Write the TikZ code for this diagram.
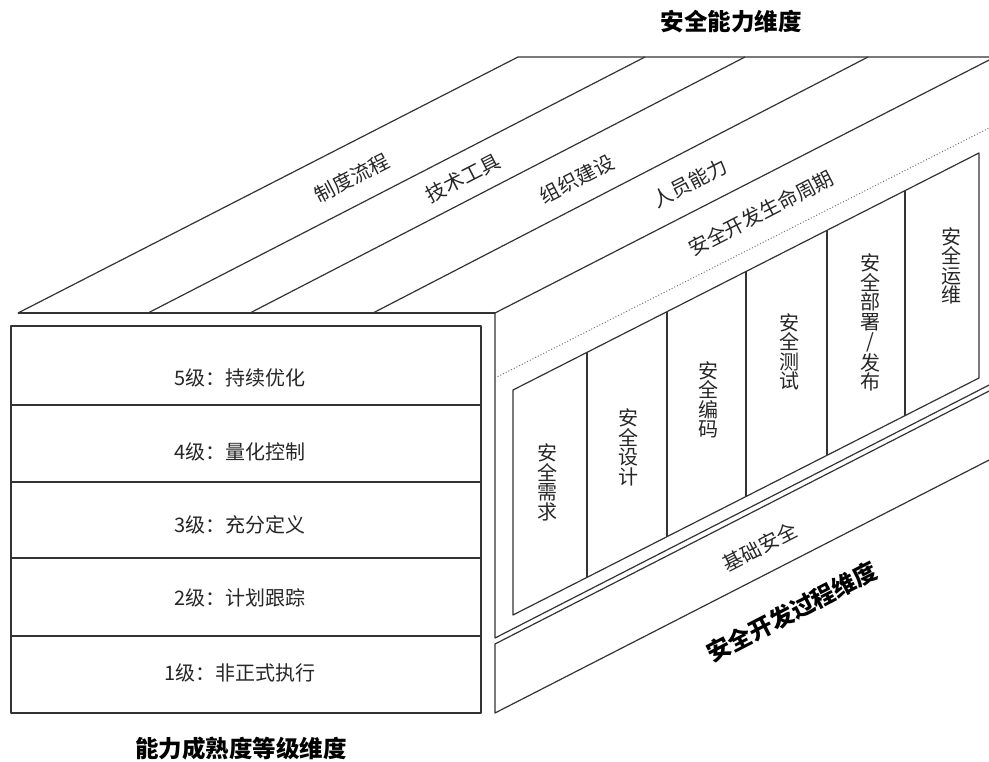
\documentclass[tikz,border=0pt]{standalone}
\usepackage{fontspec}
\setmainfont{Noto Sans CJK SC}
\begin{document}
\begin{tikzpicture}[x=1pt,y=-1pt,line join=round,
  edge/.style={draw=black!80,line width=1.2pt},
  dotline/.style={draw=black!55,line width=1pt,dotted},
  lbl/.style={text=black!85,inner sep=0pt,font=\fontsize{20}{20}\selectfont},
  rowlbl/.style={text=black!85,inner sep=0pt,font=\fontsize{20}{20}\selectfont},
  collbl/.style={text=black!85,inner sep=0pt,align=center,font=\fontsize{20}{19.5}\selectfont},
  dimlbl/.style={text=black,inner sep=0pt,font=\bfseries\fontsize{23.5}{24}\selectfont},
  slant/.style={rotate=27.25}]
\useasboundingbox (0,0) rectangle (989,762);
% ---------- top face ----------
\coordinate (tfL) at (18,313);
\coordinate (tfR) at (495,313);
\draw[edge] (tfL) -- (518,57) -- (995,57);
\draw[edge] (tfL) -- (tfR);
\draw[edge] (148,313) -- (645,57);
\draw[edge] (250,313) -- (745,57);
\draw[edge] (373,313) -- (868,57);
% ---------- right face ----------
\draw[edge] (995,57) ++(0,0) (tfR) -- (995,57);
\draw[edge] (tfR) -- (495,638) -- (995,382);
\draw[dotline] (495,378) -- (995,125);
% inner panel
\draw[edge] (513,390) -- (979,153) -- (979,378) -- (513,615) -- cycle;
\foreach \x in {587,667,746,827,905}{
  \draw[edge] (\x,{390-(\x-513)*0.5086}) -- (\x,{615-(\x-513)*0.5086});
}
% lower box
\draw[edge] (995,388) -- (495,644) -- (495,713) -- (995,457);
% ---------- left block ----------
\draw[edge] (11,326) rectangle (481,713);
\foreach \y in {405,482,558,636}{ \draw[edge] (11,\y) -- (481,\y); }
% ---------- labels ----------
\node[rowlbl] (r5) at (240,378) {5级：持续优化};
\node[rowlbl] (r4) at (240,452) {4级：量化控制};
\node[rowlbl] (r3) at (240,525) {3级：充分定义};
\node[rowlbl] (r2) at (240,598) {2级：计划跟踪};
\node[rowlbl] (r1) at (240,673) {1级：非正式执行};
\node[lbl,slant] (a1) at (352,178) {制度流程};
\node[lbl,slant] (a2) at (463,178) {技术工具};
\node[lbl,slant] (a3) at (577,179) {组织建设};
\node[lbl,slant] (a4) at (690,183) {人员能力};
\node[lbl,slant] (a5) at (761,213) {安全开发生命周期};
\node[lbl,slant] (a6) at (760,547) {基础安全};
\node[collbl] (c1) at (547.5,482.5) {安\\全\\需\\求};
\node[collbl] (c2) at (628,447.5) {安\\全\\设\\计};
\node[collbl] (c3) at (708.5,400) {安\\全\\编\\码};
\node[collbl] (c4) at (789.5,352) {安\\全\\测\\试};
\node[collbl] (c5) at (870,322.5) {安\\全\\部\\署\\/\\发\\布};
\node[collbl] (c6) at (951,266) {安\\全\\运\\维};
\node[dimlbl] (d1) at (731,22) {安全能力维度};
\node[dimlbl] (d2) at (241,749) {能力成熟度等级维度};
\node[dimlbl,slant] (d3) at (792,612) {安全开发过程维度};
\end{tikzpicture}
\end{document}
